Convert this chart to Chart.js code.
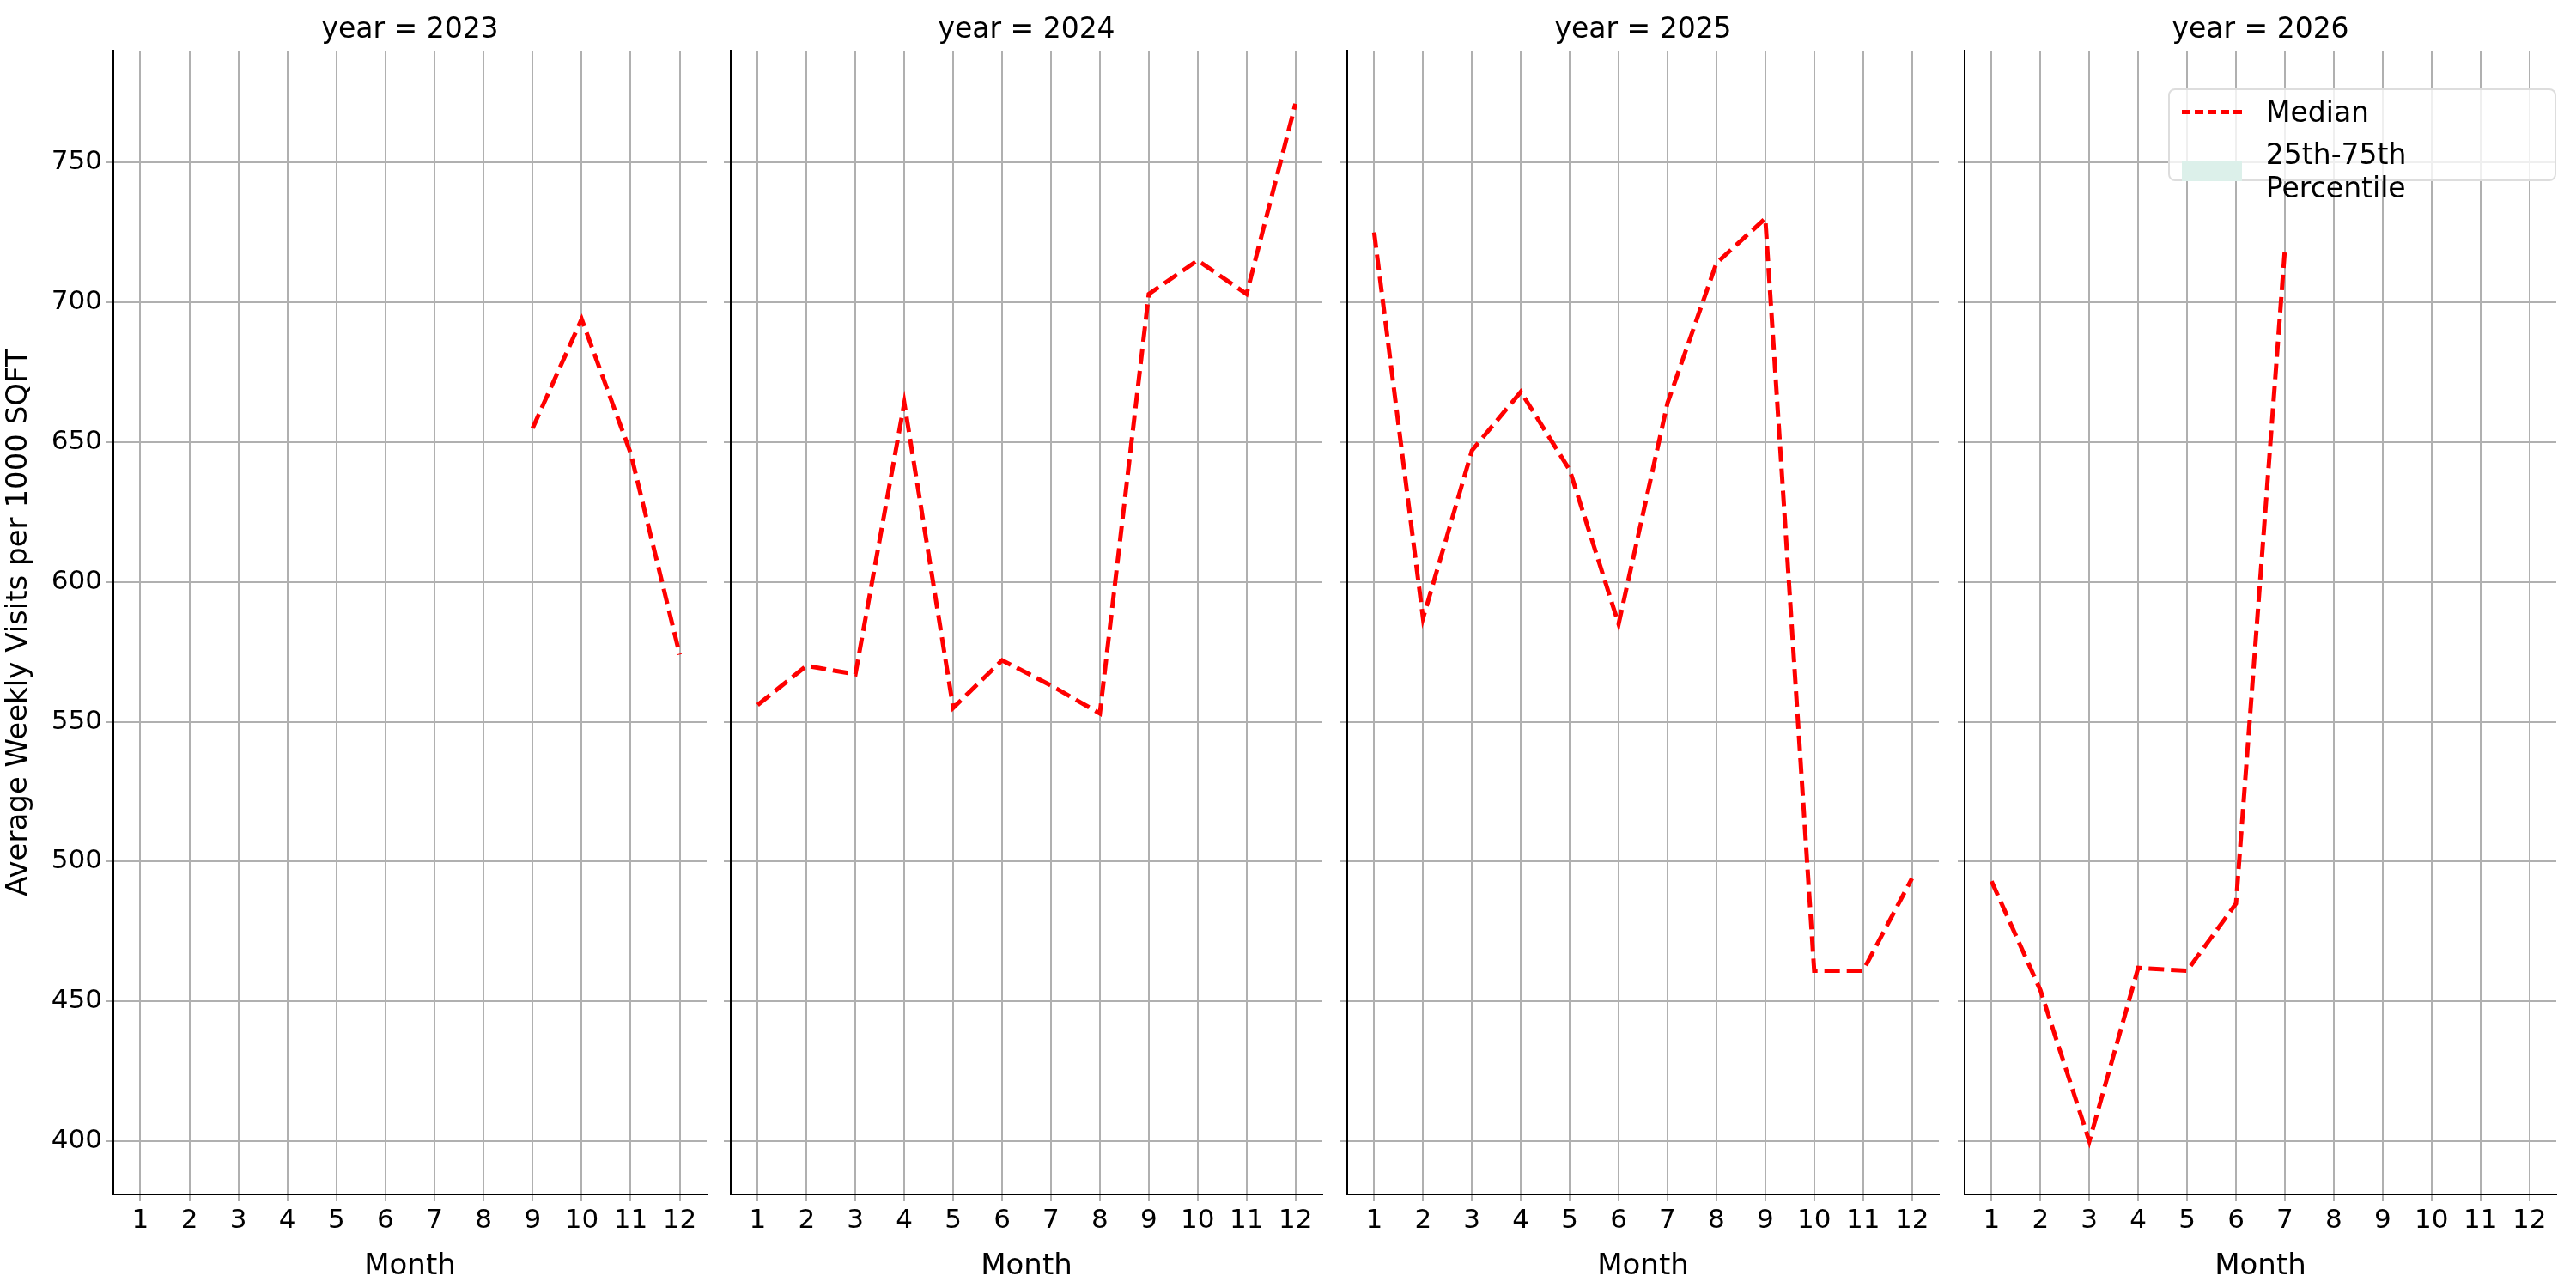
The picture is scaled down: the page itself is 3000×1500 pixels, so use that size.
<!DOCTYPE html>
<html>
<head>
<meta charset="utf-8">
<script src="https://cdn.jsdelivr.net/npm/chart.js@4"></script>
<style>
  body { margin: 0; background: #fff; width: 3000px; height: 1500px; position: relative; overflow: hidden; font-family: "DejaVu Sans", sans-serif; }
  canvas { position: absolute; top: 0; }
  #legend { position: absolute; left: 2525px; top: 103px; width: 452px; height: 108px; border: 2px solid #ddd; border-radius: 8px; background: rgba(255,255,255,0.8); box-sizing: border-box; font-size: 33px; }
  .row { position: absolute; left: 14px; display: flex; align-items: center; }
  .sw { width: 70px; margin-right: 28px; }
</style>
</head>
<body>
<canvas id="c0"></canvas>
<canvas id="c1"></canvas>
<canvas id="c2"></canvas>
<canvas id="c3"></canvas>
<div id="legend">
  <div class="row" style="top:6px"><div class="sw" style="border-top:5px dashed #ff0000"></div><span>Median</span></div>
  <div class="row" style="top:55px"><div class="sw" style="height:24px;background:#dcf0ea"></div><span>25th-75th Percentile</span></div>
</div>
<script>
// === data ===
const years = [2023, 2024, 2025, 2026];
const months = [1, 2, 3, 4, 5, 6, 7, 8, 9, 10, 11, 12];
const median2023 = [null, null, null, null, null, null, null, null, 655, 694, 646, 574];
const median2024 = [556, 570, 567, 664, 555, 572, 563, 553, 703, 715, 703, 771];
const median2025 = [725, 587, 647, 668, 640, 585, 664, 714, 730, 461, 461, 494];
const median2026 = [493, 454, 400, 462, 461, 485, 719, null, null, null, null, null];
const yTicks = [400, 450, 500, 550, 600, 650, 700, 750];
const seriesList = [median2023, median2024, median2025, median2026];

// panel plot areas (px)
const plotLeft = [132, 851, 1569, 2288];
const plotRight = [823, 1540, 2258, 2977];
const PLOT_TOP = 59, PLOT_BOTTOM = 1391;
const FONT = "'DejaVu Sans', sans-serif";

// title drawn over the plot area
const facetTitle = {
  id: 'facetTitle',
  afterDraw(chart, args, opts) {
    const { ctx, chartArea } = chart;
    ctx.save();
    ctx.font = "33px " + FONT;
    ctx.fillStyle = '#000';
    ctx.textAlign = 'center';
    ctx.textBaseline = 'bottom';
    ctx.fillText(opts.text, (chartArea.left + chartArea.right) / 2, chartArea.top - 7);
    ctx.restore();
  }
};

years.forEach((yr, i) => {
  const first = i === 0;
  const yAxisW = first ? 132 : 20;
  const left = plotLeft[i] - yAxisW;
  const canvas = document.getElementById('c' + i);
  const w = plotRight[i] - left + 2;
  canvas.style.left = left + 'px';
  canvas.style.width = w + 'px';
  canvas.style.height = '1500px';
  canvas.width = w; canvas.height = 1500;

  new Chart(canvas, {
    type: 'line',
    data: {
      datasets: [{
        label: 'Median',
        data: months.map((m, k) => ({ x: m, y: seriesList[i][k] })),
        borderColor: '#ff0000',
        borderWidth: 5,
        borderDash: [18, 8],
        pointRadius: 0,
        fill: false,
        spanGaps: false
      }]
    },
    options: {
      responsive: false,
      animation: false,
      layout: { padding: { top: PLOT_TOP, right: 2, left: 0, bottom: 0 } },
      plugins: { legend: { display: false }, tooltip: { enabled: false }, facetTitle: { text: 'year = ' + yr } },
      scales: {
        x: {
          type: 'linear', min: 0.45, max: 12.55,
          afterBuildTicks: ax => { ax.ticks = months.map(v => ({ value: v })); },
          afterFit: ax => { ax.height = 1500 - PLOT_BOTTOM; },
          ticks: { font: { family: FONT, size: 31 }, color: '#000', padding: 4, maxRotation: 0 },
          grid: { color: '#b0b0b0', lineWidth: 2, tickLength: 8 },
          border: { color: '#000', width: 2 },
          title: { display: true, text: 'Month', font: { family: FONT, size: 34 }, color: '#000', padding: { top: 0 } }
        },
        y: {
          min: 381, max: 790,
          afterBuildTicks: ax => { ax.ticks = yTicks.map(v => ({ value: v })); },
          afterFit: ax => { ax.width = yAxisW; },
          ticks: { display: first, font: { family: FONT, size: 31 }, color: '#000', padding: 5 },
          grid: { color: '#b0b0b0', lineWidth: 2, tickLength: 8 },
          border: { color: '#000', width: 2 },
          title: { display: first, text: 'Average Weekly Visits per 1000 SQFT', font: { family: FONT, size: 34 }, color: '#000', padding: 2 }
        }
      }
    },
    plugins: [facetTitle]
  });
});
</script>
</body>
</html>
